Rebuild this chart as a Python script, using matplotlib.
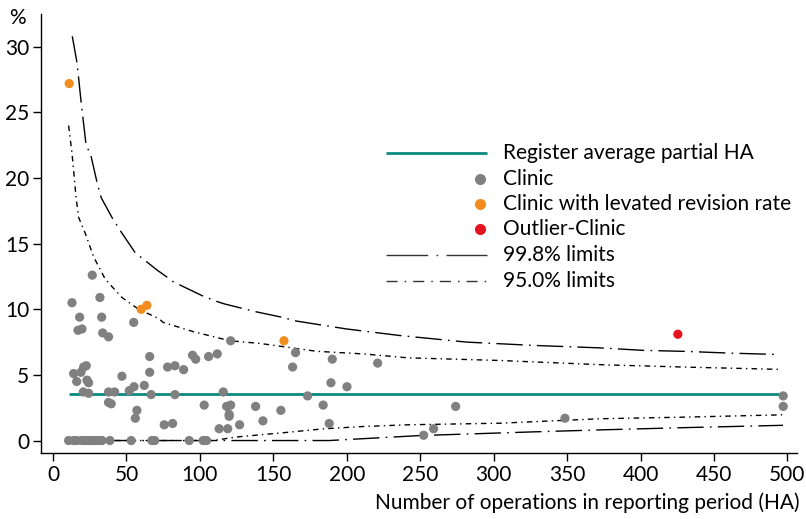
import matplotlib
matplotlib.use("Agg")
import matplotlib.pyplot as plt
from matplotlib.lines import Line2D

plt.rcParams['font.family'] = ['Lato', 'DejaVu Sans']

# ---------------- data ----------------
clinic_n = [12.9, 31.9, 18.1, 33.1, 17.0, 19.7, 33.8, 37.8, 54.9, 65.8, 78.0, 65.8,
            20.8, 22.6, 14.0, 19.0, 16.1, 23.1, 24.2, 46.9, 20.6, 24.2, 37.8, 41.9,
            51.9, 55.1, 62.1, 66.8, 37.8, 39.6, 57.1, 56.0, 75.7, 81.4, 120.9, 83.0,
            88.9, 95.0, 97.1, 105.9, 111.8, 163.1, 83.0, 115.9, 102.9, 118.2, 120.9,
            119.9, 119.9, 137.9, 155.1, 113.1, 118.9, 127.0, 142.9, 165.1, 190.1,
            221.0, 189.2, 200.1, 173.3, 183.9, 188.0, 274.1, 348.5, 259.1, 252.3,
            497.1, 497.1, 26.7,
            10.6, 14.0, 16.3, 19.7, 21.9, 24.2, 26.5, 28.7, 31.0, 33.3, 38.7, 53.2,
            67.3, 69.2, 92.7, 102.2, 104.5]
clinic_rate = [10.5, 10.9, 9.4, 9.4, 8.4, 8.5, 8.2, 7.9, 9.0, 6.4, 5.6, 5.2,
               5.6, 5.7, 5.1, 5.2, 4.5, 4.6, 4.4, 4.9, 3.7, 3.6, 3.7, 3.7,
               3.8, 4.1, 4.2, 3.5, 2.9, 2.8, 2.3, 1.7, 1.2, 1.3, 7.6, 5.7,
               5.4, 6.5, 6.2, 6.4, 6.6, 5.6, 3.5, 3.7, 2.7, 2.6, 2.7,
               2.0, 1.85, 2.6, 2.3, 0.9, 0.9, 1.2, 1.5, 6.7, 6.2,
               5.9, 4.4, 4.1, 3.4, 2.7, 1.3, 2.6, 1.7, 0.9, 0.4,
               3.4, 2.6, 12.6,
               0, 0, 0, 0, 0, 0, 0, 0, 0, 0, 0, 0,
               0, 0, 0, 0, 0]

elevated_n = [11.0, 60.0, 63.9, 157.2]
elevated_rate = [27.2, 10.0, 10.3, 7.6]

outlier_n = [425.4]
outlier_rate = [8.1]

average_n = [11, 497]
average_rate = [3.57, 3.57]

upper998_n = [13.1, 16.3, 19.2, 22.4, 26.0, 30.1, 32.8, 40.1, 46.9, 56.0, 65.1, 70.7,
              78.2, 81.8, 102.2, 111.4, 117.0, 138.6, 155.6, 165.8, 199.9, 236.2,
              281.6, 326.7, 372.3, 401.8, 431.3, 460.8, 492.6]
upper998_rate = [30.8, 28.8, 25.7, 22.6, 21.6, 19.6, 18.5, 17.0, 15.8, 14.3, 13.5, 13.0,
                 12.4, 12.1, 11.0, 10.6, 10.4, 9.8, 9.4, 9.1, 8.5, 8.0,
                 7.5, 7.25, 7.06, 6.87, 6.79, 6.66, 6.56]

upper950_n = [10.6, 12.9, 14.4, 15.6, 17.4, 21.9, 27.6, 35.5, 46.9, 58.3, 71.9, 75.0,
              95.4, 120.4, 140.8, 160.1, 179.4, 211.2, 241.8, 304.2, 372.3, 429.0, 496.0]
upper950_rate = [24.0, 21.9, 20.1, 18.6, 17.0, 15.8, 14.0, 12.3, 10.9, 10.0, 9.3, 9.0,
                 8.3, 7.6, 7.4, 7.1, 6.8, 6.6, 6.3, 6.1, 5.78, 5.6, 5.42]

lower950_n = [11, 109, 125, 160.1, 183.9, 211.2, 241.8, 304.2, 372.3, 429.0, 497.0]
lower950_rate = [0, 0, 0.27, 0.63, 0.89, 1.07, 1.2, 1.32, 1.66, 1.78, 1.96]

lower998_n = [11, 188, 250, 327, 372.3, 429.0, 497.0]
lower998_rate = [0, 0, 0.38, 0.66, 0.81, 0.98, 1.16]

x_ticks = [0, 50, 100, 150, 200, 250, 300, 350, 400, 450, 500]
y_ticks = [0, 5, 10, 15, 20, 25, 30]

legend_labels = ["Register average partial HA", "Clinic",
                 "Clinic with levated revision rate", "Outlier-Clinic",
                 "99.8% limits", "95.0% limits"]

# ---------------- style ----------------
TEAL = '#0a8a7d'
GRAY = '#808080'
ORANGE = '#f28c1e'
RED = '#e3141f'
DASH998 = (0, (19, 4.5, 1.2, 4.5))
DASH950 = (0, (4, 3, 1, 3))
FS = 15

W, H = 806, 519
fig = plt.figure(figsize=(W / 100, H / 100), dpi=100)
ax = fig.add_axes([41 / W, (H - 453) / H, (797 - 41) / W, (453 - 14) / H])

ax.plot(upper998_n, upper998_rate, color='black', lw=1.0, linestyle=DASH998, zorder=2)
ax.plot(lower998_n, lower998_rate, color='black', lw=1.0, linestyle=DASH998, zorder=2)
ax.plot(upper950_n, upper950_rate, color='black', lw=1.0, linestyle=DASH950, zorder=2)
ax.plot(lower950_n, lower950_rate, color='black', lw=1.0, linestyle=DASH950, zorder=2)
ax.plot(average_n, average_rate, color=TEAL, lw=2.0, zorder=3, solid_capstyle='butt')

ax.scatter(clinic_n, clinic_rate, s=44, color=GRAY, edgecolors='none', zorder=4)
ax.scatter(elevated_n, elevated_rate, s=44, color=ORANGE, edgecolors='none', zorder=5)
ax.scatter(outlier_n, outlier_rate, s=44, color=RED, edgecolors='none', zorder=5)

ax.set_xlim(-8.2, 506.5)
ax.set_ylim(-0.95, 32.5)
ax.set_xticks(x_ticks)
ax.set_yticks(y_ticks)
ax.tick_params(axis='both', direction='out', length=5.5, width=1.0, labelsize=FS,
               colors='black', pad=3)
for s in ['top', 'right']:
    ax.spines[s].set_visible(False)
for s in ['left', 'bottom']:
    ax.spines[s].set_linewidth(1.0)

fig.text(17 / W, 1 - 18 / H, '%', ha='center', va='center', fontsize=FS)
fig.text(800 / W, 1 - 503 / H, 'Number of operations in reporting period (HA)',
         ha='right', va='center', fontsize=FS)

# ---------------- manual legend ----------------
rows = [153.3, 179.3, 204.3, 229.5, 255.5, 281]
hx0, hx1, mx, tx = 386, 487, 480, 503


def fx(px):
    return px / W


def fy(py):
    return 1 - py / H


fig.add_artist(Line2D([fx(hx0), fx(hx1)], [fy(rows[0])] * 2, color=TEAL, lw=2.0,
                      transform=fig.transFigure, solid_capstyle='butt'))
for r, c in zip(rows[1:4], [GRAY, ORANGE, RED]):
    fig.add_artist(Line2D([fx(mx)], [fy(r)], marker='o', markersize=8, color=c,
                          markeredgecolor='none', linestyle='none',
                          transform=fig.transFigure))
fig.add_artist(Line2D([fx(hx0), fx(hx1)], [fy(rows[4])] * 2, color='#333333', lw=1.0,
                      linestyle=(0, (30, 6, 1.2, 6)), transform=fig.transFigure))
fig.add_artist(Line2D([fx(hx0), fx(hx1)], [fy(rows[5])] * 2, color='#333333', lw=1.0,
                      linestyle=(0, (8, 5, 1.2, 5)), transform=fig.transFigure))
for r, lab in zip(rows, legend_labels):
    fig.text(fx(tx), fy(r), lab, ha='left', va='center', fontsize=FS)

fig.savefig('out.png', dpi=100)
